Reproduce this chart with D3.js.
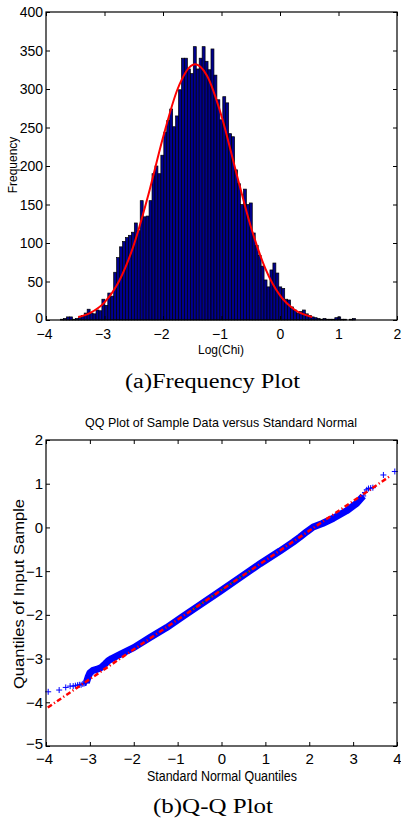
<!DOCTYPE html>
<html><head><meta charset="utf-8">
<script src="https://cdn.jsdelivr.net/npm/d3@7/dist/d3.min.js"></script>
<style>body{margin:0;background:#fff}svg{display:block}</style>
</head><body>
<svg id="c" width="401" height="821"></svg>
<script>
// ---------- data: (a) frequency plot ----------
const histCounts = [
  1, 2, 4, 4, 1, 2, 3, 6, 9, 14,
  9, 8, 13, 12, 27, 19, 35, 31, 62, 81,
  95, 102, 107, 110, 114, 126, 116, 155, 134, 135,
  155, 190, 200, 190, 214, 244, 259, 274, 251, 265,
  299, 340, 340, 326, 320, 355, 326, 340, 355, 336,
  325, 352, 318, 286, 260, 290, 282, 242, 238, 195,
  177, 150, 170, 150, 152, 113, 97, 84, 70, 52,
  43, 65, 74, 61, 43, 41, 27, 26, 17, 13,
  9, 11, 13, 8, 6, 4, 3, 2, 1, 2,
  1, 1, 1, 3, 4, 1, 1, 0, 1, 2
];
const histRange = [-3.75, 1.29];           // data min / max (equal-width bins)
const histXTicks = [-4, -3, -2, -1, 0, 1, 2];
const histYTicks = [0, 50, 100, 150, 200, 250, 300, 350, 400];
const fitX = [-3.45, -3.25, -3.0, -2.75, -2.5, -2.25, -2.0, -1.75, -1.5, -1.45, -1.25, -1.0, -0.75, -0.5, -0.25, 0.0, 0.25, 0.55];
const fitY = [3.9, 9.0, 22.9, 50.6, 97.2, 162.7, 237, 300, 331, 332, 317.5, 265, 192, 121.5, 66.8, 31.9, 13.3, 3.9];

// ---------- data: (b) Q-Q plot ----------
const qqBandX = [-3.08, -3.04, -3.0, -2.93, -2.85, -2.75, -2.65, -2.58, -2.5, -2.3, -2.0, -1.63, -1.25, -0.87, -0.49, -0.03, 0.42, 0.88, 1.33, 1.64, 1.79, 1.94, 2.09, 2.3, 2.55, 2.85, 3.08, 3.23];
const qqBandY = [-3.55, -3.42, -3.33, -3.27, -3.25, -3.21, -3.12, -3.05, -3.0, -2.9, -2.75, -2.52, -2.29, -2.03, -1.77, -1.46, -1.15, -0.83, -0.54, -0.33, -0.22, -0.10, 0.01, 0.09, 0.21, 0.38, 0.55, 0.72];
const qqTailX = [-3.95, -3.70, -3.55, -3.45, -3.38, -3.33, -3.28, -3.24, -3.20, -3.16, -3.13, -3.10, 3.27, 3.31, 3.35, 3.40, 3.45, 3.69, 3.95];
const qqTailY = [-3.76, -3.72, -3.66, -3.63, -3.63, -3.62, -3.61, -3.60, -3.60, -3.58, -3.57, -3.56, 0.80, 0.86, 0.89, 0.90, 0.91, 1.20, 1.28];
const qqRefLineX = [-3.96, 3.85];
const qqRefLineY = [-4.12, 1.18];
const qqIqrLineX = [-0.674, 0.674];
const qqIqrLineY = [-1.888, -0.972];
const qqXTicks = [-4, -3, -2, -1, 0, 1, 2, 3, 4];
const qqYTicks = [-5, -4, -3, -2, -1, 0, 1, 2];

// ---------- drawing ----------
const svg = d3.select("#c");
const SANS = "'Liberation Sans Narrow','Arial Narrow','Liberation Sans',Arial,sans-serif";
const SANSR = "'Liberation Sans',Arial,sans-serif";
const SERIF = "'Liberation Serif','Times New Roman',serif";
const fmt = d3.format("");

function frame(g, x, y, xt, yt, fs, xlabY) {
  const [x0, x1] = x.range(), [y0, y1] = y.range();
  const ab = g.append("g").attr("transform", `translate(0,${y0})`)
    .call(d3.axisBottom(x).tickValues(xt).tickSize(-4).tickFormat(fmt));
  const al = g.append("g").attr("transform", `translate(${x0},0)`)
    .call(d3.axisLeft(y).tickValues(yt).tickSize(-4).tickFormat(fmt));
  const at = g.append("g").attr("transform", `translate(0,${y1})`)
    .call(d3.axisTop(x).tickValues(xt).tickSize(-4).tickFormat(""));
  const ar = g.append("g").attr("transform", `translate(${x1},0)`)
    .call(d3.axisRight(y).tickValues(yt).tickSize(-4).tickFormat(""));
  [ab, al, at, ar].forEach(a => {
    a.select(".domain").remove();
    a.selectAll("line").attr("stroke", "#000").attr("stroke-width", 1);
  });
  ab.selectAll("text").attr("y", xlabY).attr("dy", 0)
    .attr("dx", d => d < 0 ? -2 : 0)
    .style("font-family", SANS).style("font-size", fs + "px").attr("fill", "#000");
  const ymin = d3.min(yt);
  al.selectAll("text").attr("x", -3).attr("dy", "0.33em")
    .attr("y", d => d === ymin ? -2 : 0)
    .style("font-family", SANS).style("font-size", fs + "px").attr("fill", "#000");
  g.append("rect").attr("x", x0).attr("y", y1).attr("width", x1 - x0).attr("height", y0 - y1)
    .attr("fill", "none").attr("stroke", "#000").attr("stroke-width", 1.2);
}

// (a)
const xa = d3.scaleLinear().domain([-4, 2]).range([46, 397]);
const ya = d3.scaleLinear().domain([0, 400]).range([320, 12]);
const ga = svg.append("g");
const binW = (histRange[1] - histRange[0]) / histCounts.length;
ga.append("g").selectAll("rect").data(histCounts).join("rect")
  .attr("x", (d, i) => xa(histRange[0] + i * binW))
  .attr("width", (d, i) => xa(histRange[0] + (i + 1) * binW) - xa(histRange[0] + i * binW))
  .attr("y", d => ya(d))
  .attr("height", d => ya(0) - ya(d))
  .attr("fill", "#00008f").attr("stroke", "#000").attr("stroke-width", 0.7);
ga.append("path")
  .datum(fitX.map((x, i) => [x, fitY[i]]))
  .attr("d", d3.line().x(d => xa(d[0])).y(d => ya(d[1])).curve(d3.curveMonotoneX))
  .attr("fill", "none").attr("stroke", "#ff0000").attr("stroke-width", 2);
frame(ga, xa, ya, histXTicks, histYTicks, 14, 19);
ga.append("text").attr("x", 221).attr("y", 354).attr("text-anchor", "middle")
  .style("font-family", SANS).style("font-size", "12px").text("Log(Chi)");
ga.append("text").attr("transform", "translate(17,165) rotate(-90)").attr("text-anchor", "middle")
  .style("font-family", SANS).style("font-size", "12px").text("Frequency");
ga.append("text").attr("x", 125).attr("y", 388)
  .attr("textLength", 175).attr("lengthAdjust", "spacingAndGlyphs")
  .style("font-family", SERIF).style("font-size", "20px").text("(a)Frequency Plot");

// (b)
const xb = d3.scaleLinear().domain([-4, 4]).range([46, 397]);
const yb = d3.scaleLinear().domain([-5, 2]).range([746, 440]);
const gb = svg.append("g");
const bandPts = qqBandX.map((x, i) => [x, qqBandY[i]]);
gb.append("path").datum(bandPts)
  .attr("d", d3.line().x(d => xb(d[0])).y(d => yb(d[1])))
  .attr("fill", "none").attr("stroke", "#0000ff").attr("stroke-width", 7)
  .attr("stroke-linejoin", "round");
const allMarks = bandPts.concat(qqTailX.map((x, i) => [x, qqTailY[i]]));
gb.append("g").selectAll("path").data(allMarks).join("path")
  .attr("d", d => {
    const cx = xb(d[0]), cy = yb(d[1]), r = 3;
    return `M${cx - r},${cy}H${cx + r}M${cx},${cy - r}V${cy + r}`;
  })
  .attr("stroke", "#0000ff").attr("stroke-width", 1).attr("fill", "none");
gb.append("line")
  .attr("x1", xb(qqIqrLineX[0])).attr("y1", yb(qqIqrLineY[0]))
  .attr("x2", xb(qqIqrLineX[1])).attr("y2", yb(qqIqrLineY[1]))
  .attr("stroke", "#008000").attr("stroke-width", 1);
gb.append("line")
  .attr("x1", xb(qqRefLineX[0])).attr("y1", yb(qqRefLineY[0]))
  .attr("x2", xb(qqRefLineX[1])).attr("y2", yb(qqRefLineY[1]))
  .attr("stroke", "#ff0000").attr("stroke-width", 2.5)
  .attr("stroke-dasharray", "5,2.5,1.2,2.5");
frame(gb, xb, yb, qqXTicks, qqYTicks, 15, 18);
gb.append("text").attr("x", 221).attr("y", 427).attr("text-anchor", "middle")
  .attr("textLength", 272).attr("lengthAdjust", "spacingAndGlyphs")
  .style("font-family", SANSR).style("font-size", "13px")
  .text("QQ Plot of Sample Data versus Standard Normal");
gb.append("text").attr("x", 222).attr("y", 781).attr("text-anchor", "middle")
  .attr("textLength", 150).attr("lengthAdjust", "spacingAndGlyphs")
  .style("font-family", SANSR).style("font-size", "14px").text("Standard Normal Quantiles");
gb.append("text").attr("transform", "translate(24,594) rotate(-90)").attr("text-anchor", "middle")
  .attr("textLength", 190).attr("lengthAdjust", "spacingAndGlyphs")
  .style("font-family", SANSR).style("font-size", "14px").text("Quantiles of Input Sample");
gb.append("text").attr("x", 153).attr("y", 813)
  .attr("textLength", 120).attr("lengthAdjust", "spacingAndGlyphs")
  .style("font-family", SERIF).style("font-size", "20px").text("(b)Q-Q Plot");
</script>
</body></html>
